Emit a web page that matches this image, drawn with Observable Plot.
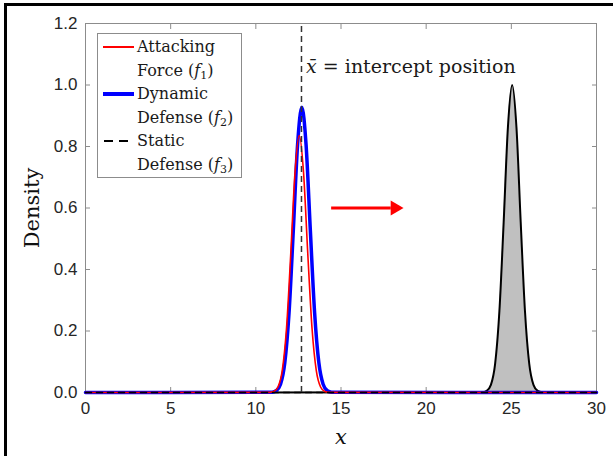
<!DOCTYPE html>
<html><head><meta charset="utf-8">
<script src="https://cdn.jsdelivr.net/npm/d3@7"></script>
<script src="https://cdn.jsdelivr.net/npm/@observablehq/plot@0.6"></script>
<style>
body{margin:0;background:#fff;}
#wrap{position:relative;width:613px;height:456px;overflow:hidden;background:#fff;}
#wrap svg{position:absolute;left:0;top:0;}
#border{position:absolute;left:4px;top:3px;width:640px;height:480px;border-left:3px solid #000;border-top:3px solid #000;}
#legend{position:absolute;left:97px;top:33px;width:143px;height:143px;border:1px solid #8c8c8c;background:#fff;font-family:"DejaVu Serif",serif;font-size:16px;color:#1a1a1a;}
#legend .t{position:absolute;left:39px;height:20px;line-height:20px;white-space:nowrap;}
#legend .l{position:absolute;}
#legend sub{font-size:11px;vertical-align:-3px;line-height:0;}
</style>
</head><body>
<div id="wrap"><div id="border"></div></div>
<script>
// ---- data ----
const xTicks = [0, 5, 10, 15, 20, 25, 30];
const yTicks = [0, 0.2, 0.4, 0.6, 0.8, 1.0, 1.2];

// Attacking force f1 (red)
const redX = [0, 10.8, 11.05, 11.3, 11.55, 11.8, 12.05, 12.3, 12.55, 12.8, 13.05, 13.3, 13.55, 13.8, 14.05, 14.3, 30];
const redY = [0, 0.0004, 0.003, 0.018, 0.071, 0.208, 0.451, 0.716, 0.836, 0.716, 0.451, 0.208, 0.071, 0.018, 0.003, 0.0004, 0];

// Dynamic defense f2 (blue)
const blueX = [0, 10.95, 11.2, 11.45, 11.7, 11.95, 12.2, 12.45, 12.7, 12.95, 13.2, 13.45, 13.7, 13.95, 14.2, 14.45, 30];
const blueY = [0, 0.0009, 0.0057, 0.027, 0.0965, 0.26, 0.527, 0.805, 0.928, 0.805, 0.527, 0.26, 0.0965, 0.027, 0.0057, 0.0009, 0];

// Target density (black, gray filled)
const tgtX = [0, 23.3, 23.55, 23.8, 24.05, 24.3, 24.55, 24.8, 25.05, 25.3, 25.55, 25.8, 26.05, 26.3, 26.55, 26.8, 30];
const tgtY = [0, 0.0007, 0.005, 0.025, 0.094, 0.265, 0.554, 0.863, 1.0, 0.863, 0.554, 0.265, 0.094, 0.025, 0.005, 0.0007, 0];

// Static defense f3 (dashed): zero line and vertical at intercept position
const staticX = [0, 30];
const staticY = [0, 0];
const interceptX = 12.68;

// Arrow and annotation
const arrowFrom = 14.45, arrowShaftTo = 17.95, arrowHeadAt = 18.17, arrowY = 0.6;
const annotation = "x\u0304 = intercept position";
const annotX = 12.95, annotY = 1.06;

const legendItems = [
  ["Attacking", "Force (", "1"],
  ["Dynamic", "Defense (", "2"],
  ["Static", "Defense (", "3"]
];

const zip = (xs, ys) => xs.map((x, i) => ({x, y: ys[i]}));
const red = zip(redX, redY), blue = zip(blueX, blueY), tgt = zip(tgtX, tgtY), stat = zip(staticX, staticY);

const serif = "DejaVu Serif";
const plot = Plot.plot({
  width: 613, height: 456,
  marginLeft: 85, marginRight: 17, marginTop: 23, marginBottom: 64,
  style: {fontFamily: "Liberation Sans", fontSize: "17px", color: "#262626", background: "transparent", overflow: "visible"},
  x: {domain: [0, 30], label: null},
  y: {domain: [0, 1.2], label: null},
  marks: [
    Plot.frame({stroke: "#8c8c8c", strokeWidth: 1}),
    Plot.axisX(xTicks, {anchor: "bottom", tickSize: 0, tickPadding: 9, label: null, fill: "#262626"}),
    Plot.axisX(xTicks, {anchor: "bottom", tickSize: -5, fill: "none", stroke: "#8c8c8c", label: null}),
    Plot.axisX(xTicks, {anchor: "top", tickSize: -5, fill: "none", stroke: "#8c8c8c", label: null}),
    Plot.axisY(yTicks, {anchor: "left", tickSize: 0, tickPadding: 8, tickFormat: d3.format(".1f"), label: null, fill: "#262626"}),
    Plot.axisY(yTicks, {anchor: "left", tickSize: -5, fill: "none", stroke: "#8c8c8c", label: null}),
    Plot.axisY(yTicks, {anchor: "right", tickSize: -5, fill: "none", stroke: "#8c8c8c", label: null}),
    Plot.areaY(tgt, {x: "x", y: "y", fill: "#c0c0c0", curve: "monotone-x"}),
    Plot.lineY(tgt, {x: "x", y: "y", stroke: "#000", strokeWidth: 2, curve: "monotone-x"}),
    Plot.lineY(blue, {x: "x", y: "y", stroke: "#0000ff", strokeWidth: 3.5, curve: "monotone-x"}),
    Plot.lineY(red, {x: "x", y: "y", stroke: "#ff0000", strokeWidth: 1.6, curve: "monotone-x"}),
    Plot.lineY(stat, {x: "x", y: "y", stroke: "#000", strokeWidth: 1.6, strokeDasharray: "6,5"}),
    Plot.ruleX([interceptX], {x: d => d, y1: 0, y2: 1.2, stroke: "#333", strokeWidth: 1.5, strokeDasharray: "6,4"}),
    Plot.ruleY([arrowY], {y: d => d, x1: arrowFrom, x2: arrowShaftTo, stroke: "#ff0000", strokeWidth: 3}),
    Plot.dot([arrowY], {x: arrowHeadAt, y: d => d, symbol: "triangle", rotate: 90, r: 5.5, fill: "#ff0000", stroke: "none"}),
    Plot.text([annotation], {x: annotX, y: annotY, text: d => d, textAnchor: "start", lineAnchor: "middle", fontFamily: serif, fontSize: 19, fill: "#1a1a1a"}),
    Plot.text(["Density"], {frameAnchor: "left", dx: -53, rotate: -90, textAnchor: "middle", lineAnchor: "middle", text: d => d, fontFamily: serif, fontSize: 21, fill: "#111"}),
    Plot.text(["x"], {frameAnchor: "bottom", dy: 45, lineAnchor: "middle", text: d => d, fontFamily: serif, fontSize: 21, fontStyle: "italic", fill: "#111"})
  ]
});
const wrap = document.getElementById("wrap");
wrap.insertBefore(plot, wrap.firstChild);

// italic x-bar in annotation
d3.select(plot).selectAll("text").each(function() {
  if (this.textContent === annotation) {
    const t = d3.select(this); t.text("");
    t.append("tspan").attr("font-style", "italic").text("x\u0304");
    t.append("tspan").text(" = intercept position");
  }
});

// legend
const lg = document.createElement("div");
lg.id = "legend";
wrap.appendChild(lg);
const rowY = [13, 36.6, 60.2, 83.8, 107.4, 131];
legendItems.forEach((it, i) => {
  const a = document.createElement("div"); a.className = "t"; a.style.top = (rowY[2*i] - 10) + "px"; a.textContent = it[0]; lg.appendChild(a);
  const b = document.createElement("div"); b.className = "t"; b.style.top = (rowY[2*i+1] - 10) + "px";
  b.innerHTML = it[1] + "<i>f</i><sub>" + it[2] + "</sub>)"; lg.appendChild(b);
});
const addLine = (left, top, w, h, color) => {
  const d = document.createElement("div"); d.className = "l";
  Object.assign(d.style, {left: left + "px", top: top + "px", width: w + "px", height: h + "px", background: color});
  lg.appendChild(d);
};
addLine(5, rowY[0] - 1, 31, 2, "#ff0000");
addLine(5, rowY[2] - 2, 31, 4, "#0000ff");
addLine(6, rowY[4] - 1, 9, 2, "#000");
addLine(21, rowY[4] - 1, 9, 2, "#000");
</script>
</body></html>
